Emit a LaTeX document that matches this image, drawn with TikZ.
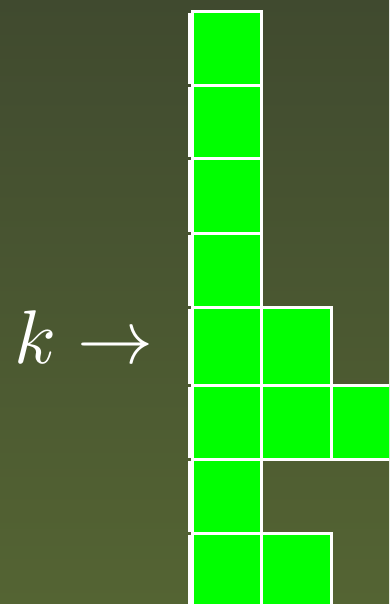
\documentclass[tikz,border=0pt]{standalone}

\definecolor{bgtop}{HTML}{404A2F}
\definecolor{bgbottom}{HTML}{546433}
\definecolor{boxgreen}{HTML}{00FF00}

\tikzset{
  cell/.style={fill=boxgreen, draw=white, line width=3pt},
  axisline/.style={draw=white, line width=3pt}
}

\begin{document}
\begin{tikzpicture}[x=1pt, y=-1pt]

  %% ==================== BACKGROUND =====================
  \useasboundingbox (0, 0) rectangle (389, 604);
  \clip (0, 0) rectangle (389, 604);
  \shade[top color=bgtop, bottom color=bgbottom] (0, 0) rectangle (389, 604);

  %% ================ VERTICAL AXIS (broken at each row) ================
  \foreach \rtop/\rbot in {12/86, 86/159, 159/233, 233/307, 307/385,
                           385/459, 459/533, 533/608}
    \draw[axisline] (189.5, \rtop+1.5) -- (189.5, \rbot-1.5);

  %% ==================== ROWS OF CELLS ===================
  % top / bottom of the row / number of cells in it
  \foreach \rtop/\rbot/\n in {12/86/1, 86/159/1, 159/233/1, 233/307/1,
                              307/385/2, 385/459/3, 459/533/1, 533/608/2}
    \foreach \c in {1,...,\n} {
      \pgfmathsetmacro{\xl}{192 + (\c-1)*69.5}
      \draw[cell] (\xl, \rtop) rectangle (\xl+69.5, \rbot);
    }

  %% ======================= LABEL ========================
  \node[anchor=base west, inner sep=0pt, text=white, scale=7.6] (klabel)
    at (13, 363) {$k \rightarrow$};

\end{tikzpicture}
\end{document}
